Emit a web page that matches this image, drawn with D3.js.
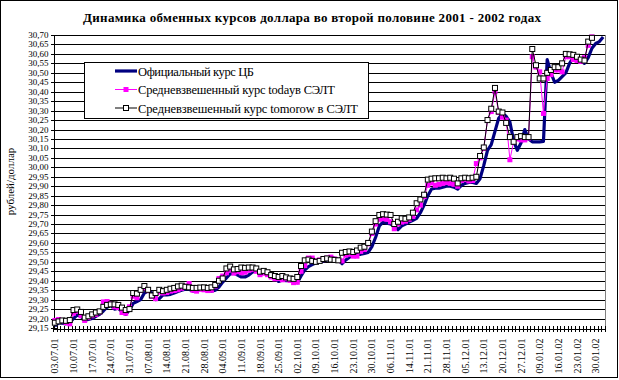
<!DOCTYPE html>
<html><head><meta charset="utf-8">
<script src="https://cdn.jsdelivr.net/npm/d3@7"></script>
<style>html,body{margin:0;padding:0;background:#fff}svg{display:block}
svg text{font-family:"Liberation Serif","Times New Roman","DejaVu Serif",serif}</style>
</head><body>
<script>
const dates = [
"03.07.01","04.07.01","05.07.01","06.07.01","09.07.01","10.07.01","11.07.01","12.07.01","13.07.01","16.07.01",
"17.07.01","18.07.01","19.07.01","20.07.01","23.07.01","24.07.01","25.07.01","26.07.01","27.07.01","30.07.01",
"31.07.01","01.08.01","02.08.01","03.08.01","06.08.01","07.08.01","08.08.01","09.08.01","10.08.01","13.08.01",
"14.08.01","15.08.01","16.08.01","17.08.01","20.08.01","21.08.01","22.08.01","23.08.01","24.08.01","27.08.01",
"28.08.01","29.08.01","30.08.01","31.08.01","03.09.01","04.09.01","05.09.01","06.09.01","07.09.01","10.09.01",
"11.09.01","12.09.01","13.09.01","14.09.01","17.09.01","18.09.01","19.09.01","20.09.01","21.09.01","24.09.01",
"25.09.01","26.09.01","27.09.01","28.09.01","01.10.01","02.10.01","03.10.01","04.10.01","05.10.01","08.10.01",
"09.10.01","10.10.01","11.10.01","12.10.01","15.10.01","16.10.01","17.10.01","18.10.01","19.10.01","22.10.01",
"23.10.01","24.10.01","25.10.01","26.10.01","29.10.01","30.10.01","31.10.01","01.11.01","02.11.01","05.11.01",
"06.11.01","08.11.01","09.11.01","12.11.01","13.11.01","14.11.01","15.11.01","16.11.01","19.11.01","20.11.01",
"21.11.01","22.11.01","23.11.01","26.11.01","27.11.01","28.11.01","29.11.01","30.11.01","03.12.01","04.12.01",
"05.12.01","06.12.01","07.12.01","10.12.01","11.12.01","13.12.01","14.12.01","17.12.01","18.12.01","19.12.01",
"20.12.01","21.12.01","24.12.01","25.12.01","26.12.01","27.12.01","28.12.01","03.01.02","04.01.02","08.01.02",
"09.01.02","10.01.02","11.01.02","14.01.02","15.01.02","16.01.02","17.01.02","18.01.02","21.01.02","22.01.02",
"23.01.02","24.01.02","25.01.02","28.01.02","29.01.02","30.01.02","31.01.02","01.02.02"
];

const official = [
29.160,29.178,29.175,29.172,29.178,29.200,29.220,29.212,29.192,29.195,
29.200,29.212,29.222,29.240,29.260,29.270,29.250,29.255,29.235,29.222,
29.245,29.280,29.290,29.300,29.335,29.345,29.335,29.300,29.305,29.325,
29.325,29.328,29.335,29.343,29.350,29.355,29.355,29.345,29.350,29.355,
29.357,29.350,29.345,29.350,29.367,29.393,29.415,29.436,29.440,29.430,
29.420,29.420,29.430,29.446,29.457,29.448,29.440,29.436,29.430,29.415,
29.396,29.404,29.400,29.410,29.400,29.390,29.425,29.457,29.475,29.485,
29.495,29.500,29.505,29.510,29.515,29.520,29.510,29.490,29.510,29.525,
29.535,29.540,29.540,29.545,29.550,29.580,29.630,29.690,29.710,29.705,
29.700,29.690,29.670,29.690,29.700,29.710,29.720,29.730,29.760,29.800,
29.850,29.885,29.890,29.890,29.895,29.900,29.900,29.895,29.885,29.905,
29.915,29.920,29.920,29.915,29.940,30.010,30.090,30.120,30.190,30.260,
30.285,30.270,30.240,30.140,30.090,30.130,30.200,30.150,30.135,30.135,
30.135,30.137,30.570,30.500,30.450,30.460,30.480,30.500,30.550,30.580,
30.585,30.565,30.550,30.580,30.630,30.655,30.665,30.690
];

const today = [
29.190,29.195,29.188,29.178,29.172,29.228,29.238,29.215,29.190,29.205,
29.215,29.222,29.235,29.288,29.290,29.278,29.262,29.258,29.232,29.228,
29.262,29.318,29.310,29.350,29.362,29.348,29.318,29.305,29.340,29.335,
29.338,29.345,29.348,29.352,29.360,29.372,29.385,29.350,29.345,29.355,
29.352,29.348,29.350,29.372,29.412,29.425,29.442,29.456,29.440,29.448,
29.442,29.445,29.455,29.460,29.450,29.432,29.440,29.432,29.420,29.410,
29.412,29.405,29.410,29.402,29.390,29.392,29.450,29.480,29.520,29.520,
29.505,29.510,29.512,29.520,29.525,29.515,29.510,29.505,29.535,29.540,
29.530,29.530,29.555,29.565,29.595,29.650,29.700,29.725,29.728,29.725,
29.712,29.675,29.700,29.710,29.715,29.725,29.740,29.775,29.800,29.845,
29.905,29.917,29.905,29.910,29.915,29.920,29.915,29.910,29.900,29.930,
29.935,29.928,29.930,30.020,30.050,30.100,30.250,30.295,30.400,30.290,
30.265,30.250,30.040,30.135,30.150,30.145,30.145,30.155,30.585,30.530,
30.505,30.285,30.470,30.490,30.515,30.515,30.505,30.585,30.585,30.570,
30.565,30.560,30.580,30.645,30.690
];

const tomorrow = [
29.178,29.185,29.190,29.188,29.192,29.245,29.248,29.235,29.205,29.212,
29.222,29.232,29.238,29.262,29.272,29.275,29.275,29.272,29.258,29.245,
29.250,29.335,29.332,29.352,29.372,29.352,29.322,29.335,29.352,29.345,
29.352,29.358,29.362,29.370,29.374,29.368,29.365,29.362,29.362,29.364,
29.365,29.362,29.365,29.378,29.400,29.412,29.465,29.475,29.460,29.462,
29.470,29.468,29.470,29.470,29.465,29.448,29.452,29.445,29.430,29.425,
29.420,29.425,29.418,29.412,29.410,29.420,29.478,29.508,29.512,29.505,
29.500,29.505,29.515,29.518,29.512,29.510,29.508,29.548,29.552,29.555,
29.552,29.560,29.575,29.580,29.600,29.660,29.715,29.748,29.752,29.750,
29.748,29.700,29.712,29.730,29.728,29.735,29.760,29.810,29.830,29.855,
29.935,29.940,29.942,29.942,29.945,29.942,29.945,29.940,29.915,29.942,
29.945,29.942,29.945,29.950,30.060,30.105,30.250,30.310,30.420,30.295,
30.290,30.235,30.160,30.135,30.160,30.165,30.160,30.160,30.626,30.540,
30.470,30.470,30.500,30.515,30.530,30.530,30.550,30.600,30.598,30.595,
30.585,30.570,30.565,30.665,30.685
];

const yTicks = [29.15,29.20,29.25,29.30,29.35,29.40,29.45,29.50,29.55,29.60,29.65,29.70,29.75,29.80,29.85,29.90,
29.95,30.00,30.05,30.10,30.15,30.20,30.25,30.30,30.35,30.40,30.45,30.50,30.55,30.60,30.65,30.70];
const xTickLabels = dates.filter((d,i)=>i%5===0);

const seriesNames = ["Официальный курс ЦБ","Средневзвешенный курс todayв СЭЛТ","Средневзвешенный курс tomorow в СЭЛТ"];
const title = "Динамика обменных курсов доллара во второй половине 2001 - 2002 годах";
const yTitle = "рублей/доллар";

const W = 619, H = 380;
const L = 53, R = 605, T = 35, B = 328;
const serif = "Liberation Serif, Times New Roman, DejaVu Serif, serif";

const svg = d3.select("body").append("svg").attr("width",W).attr("height",H);
svg.append("rect").attr("width",W).attr("height",H).attr("fill","#fff");
svg.append("rect").attr("x",0.5).attr("y",0.5).attr("width",617).attr("height",377)
  .attr("fill","none").attr("stroke","#000");

const x = d3.scaleBand().domain(dates).range([L,R]).padding(0);
const y = d3.scaleLinear().domain([29.15,30.70]).range([B,T]);
const cx = i => x(dates[i]) + x.bandwidth()/2;
const fmt = v => d3.format(".2f")(v).replace(".",",");

// title
svg.append("text").attr("x",312).attr("y",22).attr("text-anchor","middle")
  .attr("font-family",serif)
  .attr("font-weight","bold").attr("font-size",13).attr("textLength",458)
  .text(title);

// grid
const g = svg.append("g").attr("shape-rendering","crispEdges");
g.selectAll("line.grid").data(yTicks.slice(1)).join("line")
  .attr("x1",L).attr("x2",R)
  .attr("y1",d=>Math.round(y(d))+0.5).attr("y2",d=>Math.round(y(d))+0.5)
  .attr("stroke","#000");
g.append("line").attr("x1",R+0.5).attr("x2",R+0.5).attr("y1",T).attr("y2",B)
  .attr("stroke","#808080");

// y axis
const yAxis = svg.append("g").attr("transform",`translate(${L+0.5},0)`)
  .attr("shape-rendering","crispEdges")
  .call(d3.axisLeft(y).tickValues(yTicks).tickFormat(fmt).tickSizeInner(3).tickSizeOuter(0).tickPadding(2));
yAxis.select(".domain").attr("stroke","#000");
yAxis.selectAll(".tick").attr("transform",d=>`translate(0,${Math.round(y(d))+0.5})`);
yAxis.selectAll(".tick line").attr("x1",3).attr("x2",-3).attr("stroke","#000");
yAxis.selectAll(".tick text").attr("font-family",serif).attr("font-size",9).attr("fill","#000");

// x axis
const xAxis = svg.append("g").attr("transform",`translate(0,${B+0.5})`)
  .attr("shape-rendering","crispEdges")
  .call(d3.axisBottom(x).tickValues(xTickLabels).tickSize(0).tickSizeOuter(0));
xAxis.select(".domain").attr("stroke","#000");
xAxis.selectAll(".tick text").attr("font-family",serif).attr("font-size",10).attr("fill","#000")
  .attr("transform","rotate(-90)").attr("text-anchor","end")
  .attr("x",-10).attr("y",0).attr("dy","0.35em");
const edges = dates.map(d=>x(d)).concat([R]);
xAxis.selectAll("line.xt").data(edges).join("line").attr("class","xt")
  .attr("x1",d=>Math.round(d)+0.5).attr("x2",d=>Math.round(d)+0.5)
  .attr("y1",-3).attr("y2",3).attr("stroke","#000");

// y title
svg.append("text").attr("transform",`translate(14,${(T+B)/2}) rotate(-90)`)
  .attr("font-family",serif)
  .attr("text-anchor","middle").attr("font-size",11).text(yTitle);

// series
const line = d3.line().defined(d=>d.v!=null).x(d=>cx(d.i)).y(d=>y(d.v));
const toPts = arr => dates.map((d,i)=>({i, v: i<arr.length ? arr[i] : null}));

const offPts = toPts(official), todPts = toPts(today), tomPts = toPts(tomorrow);

svg.append("path").datum(offPts).attr("d",line).attr("fill","none")
  .attr("stroke","#000080").attr("stroke-width",3.2).attr("stroke-linejoin","round");

svg.append("path").datum(todPts).attr("d",line).attr("fill","none")
  .attr("stroke","#FF00FF").attr("stroke-width",1);
svg.append("g").selectAll("rect").data(todPts.filter(d=>d.v!=null)).join("rect")
  .attr("x",d=>cx(d.i)-2.5).attr("y",d=>y(d.v)-2.5).attr("width",5).attr("height",5)
  .attr("fill","#FF00FF");

svg.append("path").datum(tomPts).attr("d",line).attr("fill","none")
  .attr("stroke","#000").attr("stroke-width",1);
svg.append("g").selectAll("rect").data(tomPts.filter(d=>d.v!=null)).join("rect")
  .attr("x",d=>cx(d.i)-2.5).attr("y",d=>y(d.v)-2.5).attr("width",5).attr("height",5)
  .attr("fill","#fff").attr("stroke","#000").attr("stroke-width",1);

// legend
const lg = svg.append("g");
lg.append("rect").attr("x",84.5).attr("y",62.5).attr("width",284).attr("height",56)
  .attr("fill","#fff").attr("stroke","#000").attr("shape-rendering","crispEdges");
const legY = [71, 89.5, 108];
const legW = [116, 197, 220];
legY.forEach((ly,k)=>{
  if(k===0){
    lg.append("line").attr("x1",115).attr("x2",137).attr("y1",ly).attr("y2",ly)
      .attr("stroke","#000080").attr("stroke-width",3.2);
  } else if(k===1){
    lg.append("line").attr("x1",115).attr("x2",137).attr("y1",ly).attr("y2",ly).attr("stroke","#FF00FF");
    lg.append("rect").attr("x",123.5).attr("y",ly-2.5).attr("width",5).attr("height",5).attr("fill","#FF00FF");
  } else {
    lg.append("line").attr("x1",115).attr("x2",137).attr("y1",ly).attr("y2",ly).attr("stroke","#000");
    lg.append("rect").attr("x",123.5).attr("y",ly-2.5).attr("width",5).attr("height",5)
      .attr("fill","#fff").attr("stroke","#000");
  }
  lg.append("text").attr("x",138).attr("y",ly+4.5).attr("font-family",serif).attr("font-size",12.5)
    .attr("textLength",legW[k]).text(seriesNames[k]);
});
</script>
</body></html>
